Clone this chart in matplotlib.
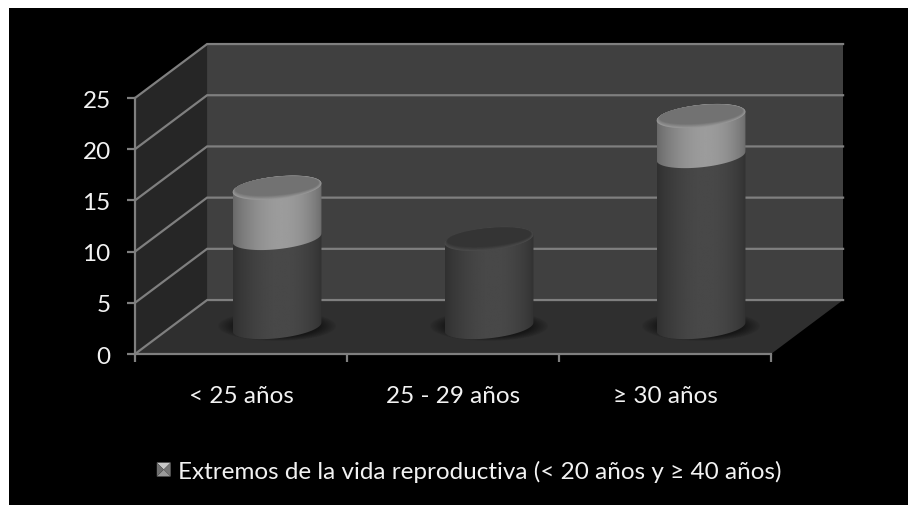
#!/usr/bin/env python3

import numpy as np

import matplotlib
matplotlib.use('Agg')  # Use non-interactive backend for plotting
import matplotlib.pyplot as plt
from matplotlib.colors import to_rgb
from matplotlib.legend_handler import HandlerBase
from matplotlib.patches import Ellipse, Patch, Polygon, Rectangle
from matplotlib.path import Path

plt.rcParams['font.family'] = ['Lato', 'DejaVu Sans']

categories = ['< 25 años', '25 - 29 años', '≥ 30 años']
lower_values = [8.7, 8.6, 16.7]
extremos_values = [4.9, 0.0, 3.9]
y_ticks = [0, 5, 10, 15, 20, 25]
legend_label = 'Extremos de la vida reproductiva (< 20 años y ≥ 40 años)'

# Oblique depth of the 3D box, in data units
DX = 0.34
DY = 5.27
# Cylinder radius along x, and along the depth direction (as a fraction)
RX = 0.195
RD = 0.225

GRID = '#7f7f7f'
TEXT = '#f2f2f2'
FONT_SIZE = 17.5


def arc(cx, y, t0, t1):
    """Points of the sheared floor circle between two angles."""
    t = np.linspace(t0, t1, 60)
    xs = cx + RX * np.cos(t) + RD * DX * np.sin(t)
    ys = y + RD * DY * np.sin(t)
    return np.column_stack([xs, ys])


def draw_body(ax, cx, y0, y1, dark, bright, zorder):
    """Side of a cylinder between y0 and y1, shaded left to right."""
    t0 = np.arctan2(RD * DX, RX)
    outline = np.vstack([arc(cx, y0, t0 + np.pi, t0 + 2 * np.pi),
                         arc(cx, y1, t0, t0 + np.pi)])
    half = np.hypot(RX, RD * DX)
    u = np.linspace(0, 1, 256)
    shade = dark + (bright - dark) * np.clip(np.sin(np.pi * u ** 1.15), 0, 1) ** 0.7
    im = ax.imshow(shade[None, :], extent=(cx - half, cx + half, y0 - 4, y1 + 4),
                   cmap='gray', vmin=0, vmax=1, aspect='auto', zorder=zorder,
                   interpolation='bilinear')
    im.set_clip_box(None)
    im.set_clip_path(Path(outline), ax.transData)


def draw_top(ax, cx, y, rim, face, zorder):
    """Cap of a cylinder, fading from the rim colour into the inner face."""
    t = np.linspace(0, 2 * np.pi, 80)
    rim_rgb = np.array(to_rgb(rim))
    face_rgb = np.array(to_rgb(face))
    for k, f in enumerate(np.linspace(0, 1, 7)):
        xs = cx + (1 - 0.06 * f) * (RX * np.cos(t) + RD * DX * np.sin(t))
        ys = y + 0.16 * f + (1 - 0.2 * f) * RD * DY * np.sin(t)
        ax.add_patch(Polygon(np.column_stack([xs, ys]), closed=True,
                             fc=rim_rgb + (face_rgb - rim_rgb) * f, ec='none',
                             zorder=zorder + 0.01 * k))


class BevelHandler(HandlerBase):
    """Small square legend key with four shaded bevel faces."""

    def create_artists(self, legend, orig_handle, xdescent, ydescent, width, height,
                       fontsize, trans):
        size = 10
        x0 = (width - size) / 2 - xdescent
        y0 = (height - size) / 2 - ydescent
        c = (x0 + size / 2, y0 + size / 2)
        ll, lr = (x0, y0), (x0 + size, y0)
        ul, ur = (x0, y0 + size), (x0 + size, y0 + size)
        faces = [([ul, ur, c], '#c8c8c8'), ([ll, lr, c], '#9a9a9a'),
                 ([ll, ul, c], '#6e6e6e'), ([lr, ur, c], '#767676')]
        return [Polygon(pts, closed=True, fc=col, ec='none', transform=trans)
                for pts, col in faces]


fig = plt.figure(figsize=(9.08, 5.06), dpi=100, facecolor='white')
fig.add_artist(Rectangle((9 / 908, 0), 899 / 908, 497 / 506, fc='black', ec='none',
                         transform=fig.transFigure, zorder=-1))

ax = fig.add_axes([135 / 908, 151 / 506, 636 / 908, 256 / 506])
ax.patch.set_visible(False)
n = len(categories)
top = y_ticks[-1]

# Box walls
ax.add_patch(Polygon([(0, 0), (n, 0), (n + DX, DY), (DX, DY)], fc='#2f2f2f', ec='none',
                     zorder=1, clip_on=False))
ax.add_patch(Polygon([(DX, DY), (n + DX, DY), (n + DX, top + DY), (DX, top + DY)],
                     fc='#404040', ec='none', zorder=1, clip_on=False))
ax.add_patch(Polygon([(0, 0), (DX, DY), (DX, top + DY), (0, top)], fc='#262626', ec='none',
                     zorder=1, clip_on=False))

# Gridlines run along the side wall and across the back wall
for v in y_ticks:
    ax.plot([0, DX, n + DX], [v, v + DY, v + DY], color=GRID, lw=1.6, zorder=2,
            clip_on=False, solid_joinstyle='miter')

for i, cat in enumerate(categories):
    cx = i + 0.5 + DX / 2
    base = DY / 2
    v1 = lower_values[i]
    v2 = extremos_values[i]

    # Soft floor shadow
    for scale in np.linspace(1.36, 1.0, 12):
        ax.add_patch(Ellipse((cx, base + 0.1), 2 * RX * scale * 1.05, 2 * RD * DY * scale * 0.9,
                             fc='black', ec='none', alpha=0.045, zorder=3))

    draw_body(ax, cx, base, base + v1, 0.19, 0.285, 4)
    if v2 > 0:
        draw_body(ax, cx, base + v1, base + v1 + v2, 0.41, 0.61, 5)
        draw_top(ax, cx, base + v1 + v2, '#989898', '#727272', 6)
    else:
        draw_top(ax, cx, base + v1, '#4a4a4a', '#343434', 6)

ax.set_xlim(0, n)
ax.set_ylim(0, top)

for side in ('top', 'right'):
    ax.spines[side].set_visible(False)
for side in ('left', 'bottom'):
    ax.spines[side].set_color(GRID)
    ax.spines[side].set_linewidth(1.6)
    ax.spines[side].set_zorder(2.5)

ax.set_yticks(y_ticks)
ax.set_xticks(range(n + 1))
ax.set_xticklabels([])
ax.set_xticks(np.arange(n) + 0.5, labels=categories, minor=True)
ax.tick_params(axis='both', which='major', color=GRID, width=1.6, length=5.5)
ax.tick_params(axis='x', which='minor', length=0, pad=22, labelsize=FONT_SIZE, labelcolor=TEXT)
ax.tick_params(axis='y', labelsize=FONT_SIZE, labelcolor=TEXT, pad=12)

ax.legend([Patch()], [legend_label], handler_map={Patch: BevelHandler()}, loc='center',
          bbox_to_anchor=(469 / 908, 34 / 506), bbox_transform=fig.transFigure,
          frameon=False, fontsize=FONT_SIZE, labelcolor=TEXT, handlelength=0.57,
          handletextpad=0.29)

fig.savefig('out.png', dpi=100, facecolor=fig.get_facecolor())
plt.close(fig)
